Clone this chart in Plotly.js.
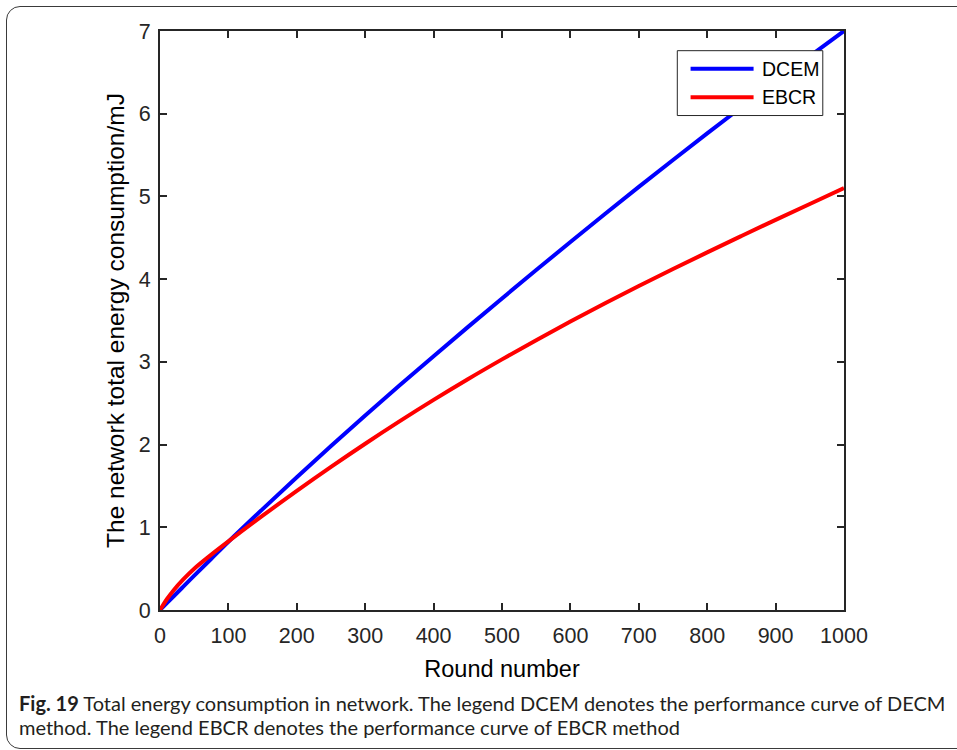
<!DOCTYPE html>
<html>
<head>
<meta charset="utf-8">
<script src="https://cdn.plot.ly/plotly-3.0.1.min.js"></script>
<style>
  html, body { margin: 0; padding: 0; background: #fff; }
  #frame { position: absolute; left: 6px; top: 6px; width: 1000px; height: 743px;
           border: 1.5px solid #3a3a3a; border-radius: 14px; box-sizing: border-box; }
  #chart { position: absolute; left: 0; top: 0; width: 957px; height: 750px; }
</style>
</head>
<body>
<div id="frame"></div>
<div id="chart"></div>
<script>
// Round numbers
const rounds = [0, 10, 20, 34, 50, 75, 100, 150, 200, 250, 300, 350, 400, 450, 500, 550, 600, 650, 700, 750, 800, 850, 900, 950, 1000];
// DCEM total energy (mJ)
const dcem = [0, 0.083, 0.166, 0.282, 0.415, 0.62, 0.825, 1.22, 1.605, 1.982, 2.352, 2.714, 3.069, 3.42, 3.767, 4.11, 4.449, 4.784, 5.115, 5.441, 5.762, 6.078, 6.389, 6.696, 7.0];
// EBCR total energy (mJ)
const ebcr = [0, 0.13, 0.24, 0.37, 0.50, 0.67, 0.83, 1.14, 1.44, 1.73, 2.01, 2.28, 2.54, 2.79, 3.03, 3.262, 3.487, 3.705, 3.916, 4.122, 4.324, 4.522, 4.717, 4.909, 5.10];
const seriesNames = ['DCEM', 'EBCR'];
const seriesColors = ['#0000ff', '#ff0000'];
const xTicks = [0, 100, 200, 300, 400, 500, 600, 700, 800, 900, 1000];
const yTicks = [0, 1, 2, 3, 4, 5, 6, 7];

const FONT = 'Liberation Sans, Arial, sans-serif';
const CAPFONT = 'Lato, Open Sans, sans-serif';
const axisCol = '#262626';

const traces = [dcem, ebcr].map((ys, i) => ({
  x: rounds, y: ys, type: 'scatter', mode: 'lines', name: seriesNames[i],
  line: { color: seriesColors[i], width: 4, shape: 'spline', smoothing: 1 },
  showlegend: false
}));

// manual legend (MATLAB-style)
const legX0 = 0.7563, legX1 = 0.969, legY0 = 0.854, legY1 = 0.966;
const legRows = [0.935, 0.8857];
const shapes = [{ type: 'rect', xref: 'paper', yref: 'paper', x0: legX0, x1: legX1, y0: legY0, y1: legY1,
  line: { color: '#262626', width: 1 }, fillcolor: '#ffffff', layer: 'above' }];
const annotations = [];
seriesNames.forEach((n, i) => {
  shapes.push({ type: 'line', xref: 'paper', yref: 'paper', x0: 0.7757, x1: 0.8678, y0: legRows[i], y1: legRows[i],
    line: { color: seriesColors[i], width: 4 }, layer: 'above' });
  annotations.push({ xref: 'paper', yref: 'paper', x: 0.8766, y: legRows[i], xanchor: 'left', yanchor: 'middle',
    text: n, showarrow: false, font: { family: FONT, size: 19.5, color: '#000' } });
});
// caption
annotations.push({ xref: 'paper', yref: 'paper', x: -0.209, y: -0.160, xanchor: 'left', yanchor: 'middle', align: 'left',
  text: '<b>Fig. 19</b> Total energy consumption in network. The legend DCEM denotes the performance curve of DECM',
  showarrow: false, font: { family: CAPFONT, size: 20, color: '#231f20' } });
annotations.push({ xref: 'paper', yref: 'paper', x: -0.209, y: -0.2015, xanchor: 'left', yanchor: 'middle', align: 'left',
  text: 'method. The legend EBCR denotes the performance curve of EBCR method',
  showarrow: false, font: { family: CAPFONT, size: 20, color: '#231f20' } });

const layout = {
  width: 957, height: 750,
  paper_bgcolor: 'rgba(0,0,0,0)', plot_bgcolor: '#ffffff',
  margin: { l: 160, r: 112.5, t: 31, b: 140 },
  font: { family: FONT, color: axisCol },
  xaxis: {
    range: [0, 1000], tickvals: xTicks, ticktext: xTicks.map(String),
    ticks: 'inside', ticklen: 7, tickwidth: 2, tickcolor: axisCol,
    showline: true, linewidth: 2, linecolor: axisCol, mirror: 'ticks',
    showgrid: false, zeroline: false, ticklabelstandoff: 5,
    tickfont: { size: 21.5, color: axisCol, family: FONT },
    title: { text: 'Round number', font: { size: 23.5, color: '#000', family: FONT }, standoff: 14 },
    automargin: false
  },
  yaxis: {
    range: [0, 7], tickvals: yTicks, ticktext: yTicks.map(String),
    ticks: 'inside', ticklen: 7, tickwidth: 2, tickcolor: axisCol,
    showline: true, linewidth: 2, linecolor: axisCol, mirror: 'ticks',
    showgrid: false, zeroline: false, ticklabelstandoff: 3,
    tickfont: { size: 21.5, color: axisCol, family: FONT },
    title: { text: 'The network total energy consumption/mJ', font: { size: 24.5, color: '#000', family: FONT }, standoff: 7 },
    automargin: false
  },
  shapes: shapes,
  annotations: annotations
};

Plotly.newPlot('chart', traces, layout, { displayModeBar: false, staticPlot: true });
</script>
</body>
</html>
